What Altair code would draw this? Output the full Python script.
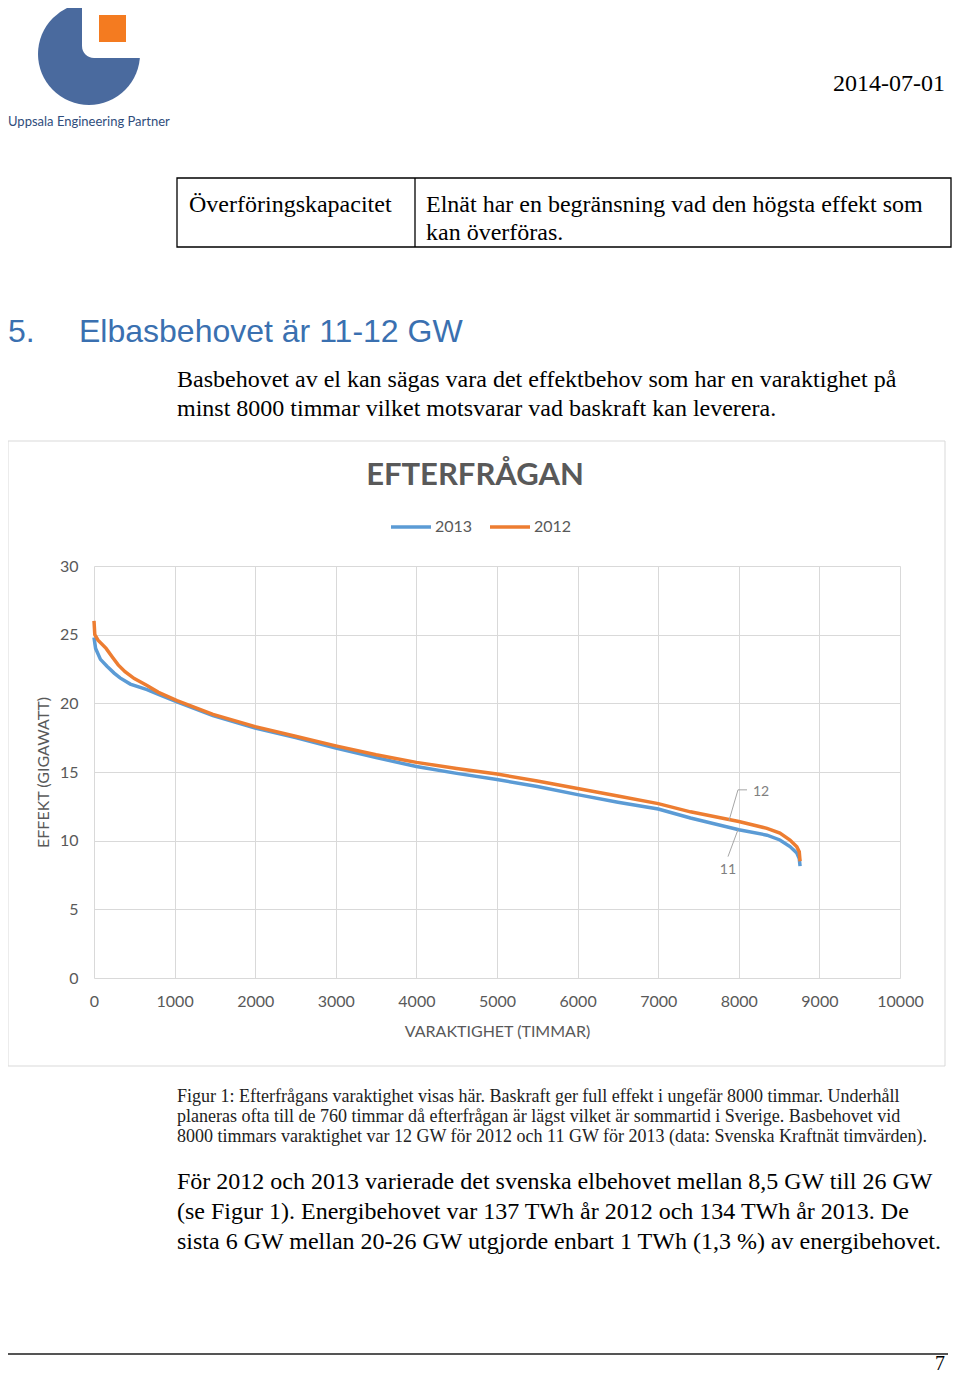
import altair as alt
import pandas as pd

# ---------------- data ----------------
hours_2012 = [0, 10, 50, 150, 236, 300, 385, 500, 658, 800, 1030, 1476, 2000, 2500, 3000,
              3500, 4000, 4500, 5000, 5500, 6000, 6500, 7000, 7400, 8000, 8350, 8510,
              8635, 8720, 8750, 8760]
gw_2012 = [26.0, 25.0, 24.6, 24.0, 23.3, 22.8, 22.3, 21.8, 21.3, 20.8, 20.2, 19.2, 18.3, 17.6,
           16.9, 16.25, 15.7, 15.25, 14.85, 14.35, 13.8, 13.25, 12.7, 12.1, 11.4, 10.9, 10.55,
           10.05, 9.55, 9.2, 8.5]

hours_2013 = [0, 20, 80, 161, 250, 323, 450, 658, 800, 1030, 1476, 2000, 2500, 3000, 3500,
              4000, 4500, 5000, 5500, 6000, 6500, 7000, 7400, 8000, 8350, 8510, 8635, 8720,
              8750, 8760]
gw_2013 = [24.8, 24.0, 23.2, 22.7, 22.2, 21.85, 21.4, 21.0, 20.65, 20.1, 19.1, 18.2, 17.5,
           16.75, 16.05, 15.4, 14.9, 14.45, 13.95, 13.35, 12.8, 12.3, 11.65, 10.8, 10.4, 10.05,
           9.57, 9.1, 8.7, 8.15]

series_names = ["2013", "2012"]
series_colors = ["#5B9BD5", "#ED7D31"]
x_ticks = [0, 1000, 2000, 3000, 4000, 5000, 6000, 7000, 8000, 9000, 10000]
y_ticks = [0, 5, 10, 15, 20, 25, 30]

# data-label callouts at 8000 h
callout_x1 = [7878, 7990, 7990]
callout_y1 = [11.45, 13.7, 10.8]
callout_x2 = [7990, 8102, 7866]
callout_y2 = [13.7, 13.7, 8.84]
label_text = ["12", "11"]
label_x = [8176, 7866]
label_y = [13.55, 7.87]

# ---------------- layout helpers ----------------
OX, OY = 94, 566          # plot-area origin on the page
W, H = 806, 412
PAGE_W, PAGE_H = 944, 1368

GRAY = "#595959"
CFONT = "Lato"
SERIF = "Liberation Serif"
SANS = "Liberation Sans"


def one():
    return alt.Data(values=[{"k": 1}])


def text(t, px, py, size, font=SERIF, color="#000000", weight="normal", align="left"):
    return alt.Chart(alt.Data(values=[{"t": t}])).mark_text(
        align=align, baseline="middle", fontSize=size, font=font,
        color=color, fontWeight=weight
    ).encode(x=alt.value(px - OX), y=alt.value(py - OY), text="t:N")


def rect(px1, py1, px2, py2, **kw):
    return alt.Chart(one()).mark_rect(**kw).encode(
        x=alt.value(px1 - OX), x2=alt.value(px2 - OX),
        y=alt.value(py1 - OY), y2=alt.value(py2 - OY))


def rule(px1, py1, px2, py2, color="#000000", width=1.0):
    return alt.Chart(one()).mark_rule(color=color, strokeWidth=width).encode(
        x=alt.value(px1 - OX), x2=alt.value(px2 - OX),
        y=alt.value(py1 - OY), y2=alt.value(py2 - OY))


# ---------------- page decorations ----------------
logo_circle = alt.Chart(one()).mark_circle(size=10404, color="#4A6A9E", opacity=1).encode(
    x=alt.value(89 - OX), y=alt.value(54 - OY))
logo_notch = rect(82, -20, 160, 58, fill="white", cornerRadius=12)
logo_square = rect(99, 15, 126, 42, fill="#F47B20")
logo_text = text("Uppsala Engineering Partner", 8, 122, 13, font=CFONT, color="#2F4D7C")

date_text = text("2014-07-01", 945, 84, 24, align="right")

table_box = rect(177, 178, 951, 247, fill="white", fillOpacity=0, stroke="#000000", strokeWidth=1.3)
table_div = rule(415, 178, 415, 247, width=1.3)
t1 = text("Överföringskapacitet", 189, 205, 24)
t2 = text("Elnät har en begränsning vad den högsta effekt som", 426, 205, 24)
t3 = text("kan överföras.", 426, 233, 24)

h_num = text("5.", 8, 332, 32, font=SANS, color="#3A70B0")
h_txt = text("Elbasbehovet är 11-12 GW", 79, 332, 32, font=SANS, color="#3A70B0")
p1 = text("Basbehovet av el kan sägas vara det effektbehov som har en varaktighet på", 177, 380, 24)
p2 = text("minst 8000 timmar vilket motsvarar vad baskraft kan leverera.", 177, 409, 24)

frame = rect(8, 441, 945, 1066, fill="white", fillOpacity=0, stroke="#D9D9D9", strokeWidth=1)
title = text("EFTERFRÅGAN", 475, 476, 31, font=CFONT, color=GRAY, weight="bold", align="center")

c1 = text("Figur 1: Efterfrågans varaktighet visas här. Baskraft ger full effekt i ungefär 8000 timmar. Underhåll",
          177, 1097, 18, color="#222222")
c2 = text("planeras ofta till de 760 timmar då efterfrågan är lägst vilket är sommartid i Sverige. Basbehovet vid",
          177, 1117, 18, color="#222222")
c3 = text("8000 timmars varaktighet var 12 GW för 2012 och 11 GW för 2013 (data: Svenska Kraftnät timvärden).",
          177, 1137, 18, color="#222222")

b1 = text("För 2012 och 2013 varierade det svenska elbehovet mellan 8,5 GW till 26 GW", 177, 1182, 24)
b2 = text("(se Figur 1). Energibehovet var 137 TWh år 2012 och 134 TWh år 2013. De", 177, 1212, 24)
b3 = text("sista 6 GW mellan 20-26 GW utgjorde enbart 1 TWh (1,3 %) av energibehovet.", 177, 1242, 24)

footer = rule(8, 1354, 948, 1354, color="#555555", width=2)
page_no = text("7", 945, 1364, 20, align="right")

# ---------------- the chart ----------------
df = pd.DataFrame({
    "hours": hours_2013 + hours_2012,
    "gw": gw_2013 + gw_2012,
    "year": ["2013"] * len(hours_2013) + ["2012"] * len(hours_2012),
})

x_enc = alt.X("hours:Q", scale=alt.Scale(domain=[0, 10000], nice=False),
              axis=alt.Axis(values=x_ticks, title="VARAKTIGHET (TIMMAR)", grid=True,
                            gridColor="#D9D9D9", domain=False, ticks=False, labelPadding=15,
                            labelFontSize=16, labelColor=GRAY, labelFont=CFONT,
                            titleFont=CFONT, titleFontSize=16, titleColor=GRAY,
                            titleFontWeight="normal", titleX=403, titleY=53,
                            titleBaseline="middle", format="d", labelFlush=False))
y_enc = alt.Y("gw:Q", scale=alt.Scale(domain=[0, 30], nice=False),
              axis=alt.Axis(values=y_ticks, title="EFFEKT (GIGAWATT)", grid=True,
                            gridColor="#D9D9D9", domain=False, ticks=False, labelPadding=16,
                            labelFontSize=16, labelColor=GRAY, labelFont=CFONT,
                            titleFont=CFONT, titleFontSize=16, titleColor=GRAY,
                            titleFontWeight="normal", titleX=-51, titleY=206,
                            titleAngle=270, titleAlign="center", titleBaseline="middle"))
c_enc = alt.Color("year:N", scale=alt.Scale(domain=series_names, range=series_colors),
                  legend=alt.Legend(orient="none", legendX=295, legendY=-61,
                                    direction="horizontal", title=None, symbolType="stroke",
                                    symbolSize=1600, symbolStrokeWidth=3.5, labelFontSize=16,
                                    labelColor=GRAY, labelFont=CFONT, columnPadding=10,
                                    labelOffset=2))

base = alt.Chart(df).encode(x=x_enc, y=y_enc, color=c_enc)
line13 = base.transform_filter(alt.datum.year == "2013").mark_line(strokeWidth=3.5)
line12 = base.transform_filter(alt.datum.year == "2012").mark_line(strokeWidth=3.5)

cdf = pd.DataFrame({"x1": callout_x1, "y1": callout_y1, "x2": callout_x2, "y2": callout_y2})
leaders = alt.Chart(cdf).mark_rule(color="#A6A6A6", strokeWidth=1).encode(
    x="x1:Q", y="y1:Q", x2="x2:Q", y2="y2:Q")
ldf = pd.DataFrame({"t": label_text, "x": label_x, "y": label_y})
labels12 = alt.Chart(ldf.iloc[:1]).mark_text(align="left", baseline="middle", fontSize=14,
                                               font=CFONT, color="#7F7F7F").encode(
    x="x:Q", y="y:Q", text="t:N")
labels11 = alt.Chart(ldf.iloc[1:]).mark_text(align="center", baseline="middle", fontSize=14,
                                               font=CFONT, color="#7F7F7F").encode(
    x="x:Q", y="y:Q", text="t:N")

chart = alt.layer(
    frame, logo_circle, logo_notch, logo_square, logo_text, date_text,
    table_box, table_div, t1, t2, t3, h_num, h_txt, p1, p2, title,
    line13, line12, leaders, labels12, labels11,
    c1, c2, c3, b1, b2, b3, footer, page_no
).properties(
    width=W, height=H,
    autosize=alt.AutoSizeParams(type="none"),
    padding={"left": OX - 8, "top": OY - 8, "right": PAGE_W - (OX - 8) - W,
             "bottom": PAGE_H - (OY - 8) - H},
    background="white",
).configure_view(stroke=None)

chart.save("out.html", embed_options={"renderer": "svg", "actions": False})
